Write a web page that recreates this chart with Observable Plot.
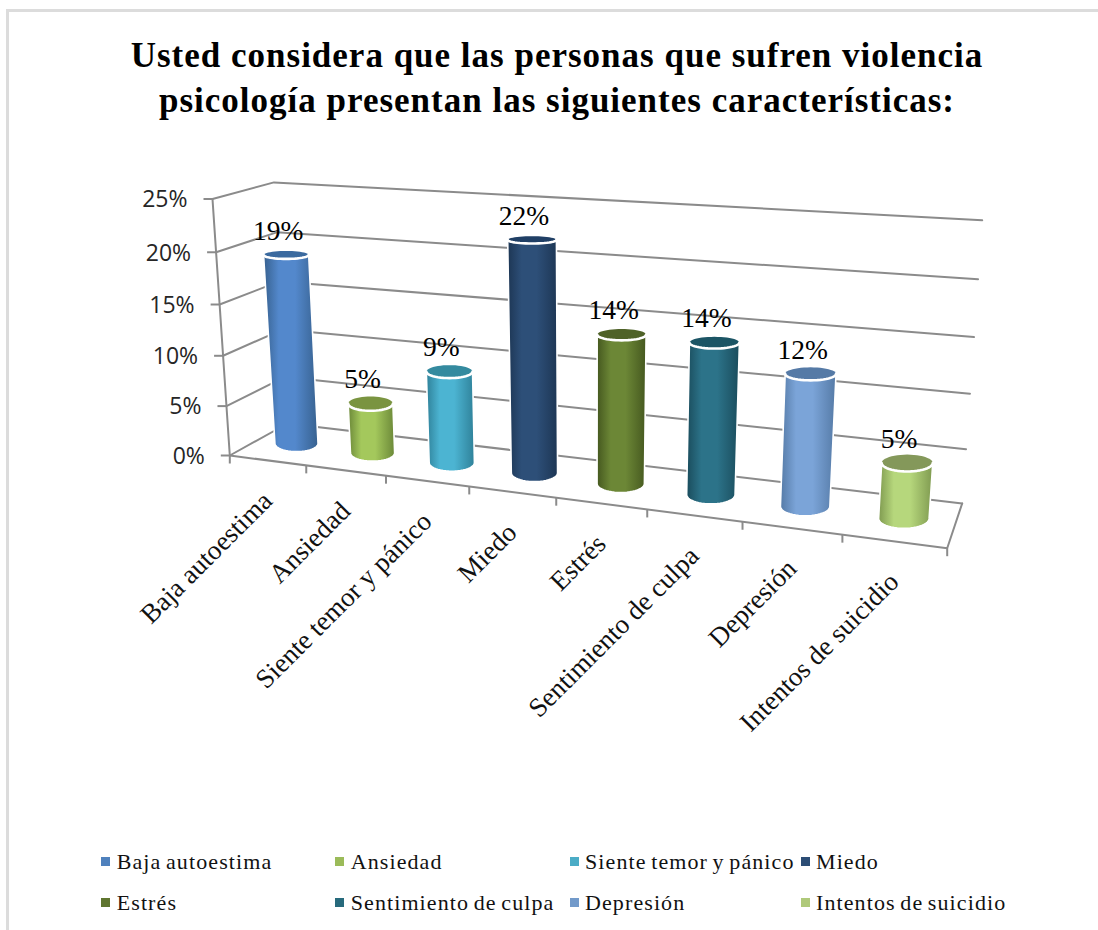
<!DOCTYPE html>
<html lang="es">
<head>
<meta charset="utf-8">
<script src="https://cdn.jsdelivr.net/npm/d3@7"></script>
<script src="https://cdn.jsdelivr.net/npm/@observablehq/plot@0.6"></script>
<style>
  html, body { margin: 0; padding: 0; background: #fff; }
  #page { position: relative; width: 1098px; height: 930px; overflow: hidden; background: #fff; }
  #frame { position: absolute; left: 6px; top: 9px; right: 0; bottom: 0; border-left: 3px solid #dcdcdc; border-top: 3px solid #dcdcdc; }
  #title { position: absolute; left: 0; top: 33px; width: 1114px; text-align: center; font: bold 35px/45px "Liberation Serif", serif; color: #000; letter-spacing: 1px; }
  #chart { position: absolute; left: 0; top: 140px; }
  .lg { position: absolute; font: 22px/24px "Liberation Serif", serif; color: #111; letter-spacing: 1.1px; word-spacing: -2px; white-space: nowrap; }
  .sw { position: absolute; width: 9px; height: 9px; }
</style>
</head>
<body>
<div id="page">
  <div id="frame"></div>
  <div id="title">Usted considera que las personas que sufren violencia<br>psicología presentan las siguientes características:</div>
  <div id="chart"></div>
  <div id="legend"></div>
</div>
<script>
const categories = ["Baja autoestima", "Ansiedad", "Siente temor y pánico", "Miedo", "Estrés", "Sentimiento de culpa", "Depresión", "Intentos de suicidio"];
const values = [19, 5, 9, 22, 14, 14, 12, 5];
const yTicks = [0, 5, 10, 15, 20, 25];
const yMax = 25;
const legendColors = ["#4f81bd", "#9bbb59", "#4bacc6", "#2c4d75", "#5f7530", "#276a7c", "#729aca", "#afc97a"];
const bodyEdge = ["#37618f", "#6b8838", "#2f8199", "#1d3654", "#45581f", "#1a4c5c", "#557aa6", "#7f9a50"];
const bodyMid = ["#5388cc", "#a4c85c", "#4cb4d2", "#2d4f78", "#6c8736", "#2c7389", "#7ba4d8", "#b6d77c"];
const topColors = ["#3b6a9f", "#7a9440", "#348a9f", "#203f65", "#4f6228", "#1c5565", "#557aa6", "#84985a"];

// Chart canvas, with the scales running in canvas units.
const W = 1098, H = 620, TOP = 140;

// Perspective view of the chart box: u along categories, v up the value axis, w into the depth.
const origin = [229.3, 455], uEnd = [946.7, 547.7], vEnd = [212, 198.5], wEnd = [287, 423];
const ku = 0.835, kv = 0.954, kw = 1.067;
function project(u, v, w) {
  const d = 1 + u * (ku - 1) + v * (kv - 1) + w * (kw - 1);
  const at = (i) => (origin[i] + u * (ku * uEnd[i] - origin[i]) + v * (kv * vEnd[i] - origin[i]) + w * (kw * wEnd[i] - origin[i])) / d;
  return {x: at(0), y: at(1)};
}

// Walls and floor
const gridRows = yTicks.flatMap((t) => [[0, 0], [0, 1], [1, 1]].map(([u, w]) => ({key: t, ...project(u, t / yMax, w)})));
const floorRows = [[0, 0], [1, 0], [1, 1]].map(([u, w]) => ({key: "floor", ...project(u, 0, w)}));
const axisRows = [0, 1].map((v) => ({key: "axis", ...project(0, v, 0)}));
const yTickRows = yTicks.map((t) => {
  const p = project(0, t / yMax, 0);
  return {...p, label: t + "%"};
});
const xTickRows = d3.range(categories.length + 1).map((i) => project(i / categories.length, 0, 0));
const xLabelRows = categories.map((c, i) => {
  const p = project((i + 0.5) / categories.length, 0, 0);
  return {x: p.x, y: p.y + 36, label: c};
});

// Cylinders
const angles = d3.range(0, 49).map((i) => (i / 48) * 2 * Math.PI);
const radiusX = (u, v) => (21.3 + 4.2 * u) * (1 + 0.06 * v);
const radiusY = (y) => 0.0215 * (y - 70);
const cylinders = categories.map((c, i) => {
  const u = (i + 0.5) / categories.length;
  const v = values[i] / yMax;
  const T = project(u, v, 0.5), B = project(u, 0, 0.5);
  const rT = radiusX(u, v), rB = radiusX(u, 0);
  const sT = radiusY(T.y), sB = radiusY(B.y);
  const body = [{x: T.x - rT, y: T.y},
    ...angles.slice(0, 25).map((a) => ({x: B.x - rB * Math.cos(a), y: B.y + sB * Math.sin(a)})),
    {x: T.x + rT, y: T.y}];
  const cap = angles.map((a) => ({x: T.x + rT * Math.cos(a), y: T.y + sT * Math.sin(a)}));
  const rim = angles.slice(0, 25).map((a) => ({x: T.x - rT * Math.cos(a), y: T.y + sT * Math.sin(a)}));
  return {i, T, body, cap, rim};
});
const valueLabelRows = cylinders.map((c) => ({x: c.T.x - 8, y: c.T.y - 24, label: values[c.i] + "%"}));

const gradients = () => {
  const defs = d3.create("svg:defs");
  categories.forEach((c, i) => {
    const g = defs.append("linearGradient").attr("id", "cyl" + i).attr("x1", 0).attr("x2", 1).attr("y1", 0).attr("y2", 0);
    [[0, bodyEdge[i]], [0.28, bodyMid[i]], [0.58, bodyMid[i]], [1, bodyEdge[i]]].forEach(([o, col]) =>
      g.append("stop").attr("offset", o).attr("stop-color", col));
  });
  return defs.node();
};

const lineStyle = {x: "x", y: "y", z: "key", stroke: "#8b8b8b", strokeWidth: 2};

const plot = Plot.plot({
  width: W, height: H,
  margin: 0,
  x: {domain: [0, W], range: [0, W], axis: null},
  y: {domain: [TOP, TOP + H], range: [0, H], axis: null},
  marks: [
    gradients,
    Plot.line(gridRows, lineStyle),
    Plot.line(floorRows, lineStyle),
    Plot.line(axisRows, lineStyle),
    Plot.link(yTickRows, {x1: (d) => d.x - 9, y1: "y", x2: "x", y2: "y", stroke: "#8b8b8b", strokeWidth: 2}),
    Plot.link(xTickRows, {x1: "x", y1: "y", x2: "x", y2: (d) => d.y + 8, stroke: "#8b8b8b", strokeWidth: 2}),
    Plot.text(yTickRows, {x: (d) => d.x - 25, y: (d) => d.y + 1, text: "label", textAnchor: "end", fontFamily: "'Open Sans', sans-serif", fontSize: 23, fill: "#262626"}),
    Plot.text(xLabelRows, {x: "x", y: "y", text: "label", textAnchor: "end", rotate: -45, fontFamily: "'Liberation Serif', serif", fontSize: 27, fill: "#111"}),
    ...cylinders.flatMap((c) => [
      Plot.line(c.body, {x: "x", y: "y", fill: `url(#cyl${c.i})`, stroke: "#ffffff", strokeWidth: 1.6}),
      Plot.line(c.cap, {x: "x", y: "y", fill: topColors[c.i], stroke: "none"}),
      Plot.line(c.rim, {x: "x", y: "y", stroke: "#ffffff", strokeWidth: 2.6})
    ]),
    Plot.text(valueLabelRows, {x: "x", y: "y", text: "label", fontFamily: "'Liberation Serif', serif", fontSize: 27.5, fill: "#000"})
  ]
});
document.getElementById("chart").append(plot);

// Legend
const legendCols = [[101, 116.7], [335, 350.7], [570, 585], [801, 816]];
const legendRows = [861.5, 902.5];
const legend = document.getElementById("legend");
categories.forEach((c, i) => {
  const [sx, tx] = legendCols[i % 4], y = legendRows[Math.floor(i / 4)];
  const s = document.createElement("div");
  s.className = "sw"; s.style.left = sx + "px"; s.style.top = (y - 4.5) + "px"; s.style.background = legendColors[i];
  const t = document.createElement("div");
  t.className = "lg"; t.style.left = tx + "px"; t.style.top = (y - 12) + "px"; t.textContent = c;
  legend.append(s, t);
});
</script>
</body>
</html>
